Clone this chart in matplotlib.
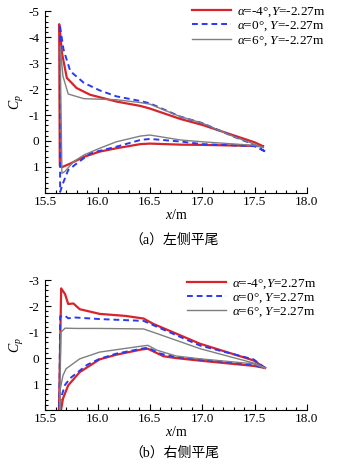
import numpy as np
import matplotlib
matplotlib.use("Agg")
import matplotlib.pyplot as plt
from matplotlib.ticker import MultipleLocator, FormatStrFormatter

# ---- (a) left horizontal tail, Y = -2.27 m ----
left_m4_up_x = [15.634, 15.645, 15.66, 15.707, 15.80, 15.93, 16.18, 16.41, 16.50, 16.79, 17.00, 17.50, 17.58]
left_m4_up_cp = [-4.5, -4.1, -3.4, -2.43, -2.04, -1.78, -1.52, -1.35, -1.25, -0.85, -0.62, 0.05, 0.2]
left_m4_lo_x = [15.634, 15.64, 15.665, 15.74, 15.87, 16.02, 16.18, 16.41, 16.50, 16.79, 17.00, 17.50, 17.58]
left_m4_lo_cp = [-4.5, 0.95, 1.0, 0.87, 0.61, 0.41, 0.28, 0.12, 0.1, 0.14, 0.15, 0.19, 0.2]

left_0_up_x = [15.64, 15.65, 15.675, 15.74, 15.87, 16.02, 16.18, 16.41, 16.50, 16.79, 17.00, 17.30, 17.47, 17.60]
left_0_up_cp = [-4.5, -4.2, -3.53, -2.69, -2.24, -1.95, -1.72, -1.54, -1.45, -0.94, -0.69, -0.17, 0.1, 0.4]
left_0_lo_x = [15.64, 15.643, 15.675, 15.72, 15.80, 15.93, 16.02, 16.18, 16.41, 16.50, 16.79, 17.00, 17.50, 17.60]
left_0_lo_cp = [-4.5, 1.96, 1.58, 1.12, 0.87, 0.48, 0.38, 0.22, -0.04, -0.08, 0.02, 0.12, 0.2, 0.4]

left_6_up_x = [15.643, 15.67, 15.72, 15.87, 16.18, 16.41, 16.50, 16.79, 17.00, 17.30, 17.47, 17.58]
left_6_up_cp = [-3.66, -2.5, -1.81, -1.63, -1.59, -1.48, -1.42, -0.94, -0.69, -0.17, 0.08, 0.25]
left_6_lo_x = [15.643, 15.66, 15.69, 15.77, 15.87, 16.02, 16.18, 16.41, 16.50, 16.79, 17.00, 17.50, 17.58]
left_6_lo_cp = [-3.66, 1.25, 1.17, 0.8, 0.54, 0.28, 0.03, -0.19, -0.23, -0.04, 0.03, 0.17, 0.25]

# ---- (b) right horizontal tail, Y = 2.27 m ----
right_m4_up_x = [15.63, 15.653, 15.69, 15.72, 15.77, 15.83, 16.02, 16.27, 16.44, 16.53, 16.98, 17.49, 17.60]
right_m4_up_cp = [2.5, -2.68, -2.46, -2.08, -2.10, -1.88, -1.70, -1.62, -1.52, -1.32, -0.55, 0.09, 0.38]
right_m4_lo_x = [15.63, 15.67, 15.72, 15.83, 16.02, 16.18, 16.42, 16.48, 16.63, 16.75, 16.98, 17.49, 17.60]
right_m4_lo_cp = [2.5, 1.56, 1.05, 0.54, 0.05, -0.13, -0.33, -0.36, -0.07, 0.0, 0.1, 0.3, 0.38]

right_0_up_x = [15.635, 15.643, 15.69, 15.72, 15.79, 16.02, 16.44, 16.53, 16.98, 17.49, 17.60]
right_0_up_cp = [2.3, -1.6, -1.63, -1.53, -1.56, -1.50, -1.43, -1.27, -0.48, 0.05, 0.38]
right_0_lo_x = [15.635, 15.64, 15.66, 15.69, 15.74, 15.90, 16.02, 16.18, 16.42, 16.48, 16.60, 16.75, 16.98, 17.49, 17.60]
right_0_lo_cp = [2.3, 1.74, 1.42, 1.03, 0.77, 0.26, 0.03, -0.17, -0.36, -0.40, -0.17, -0.04, 0.06, 0.26, 0.38]

right_6_up_x = [15.64, 15.65, 15.69, 15.80, 16.02, 16.44, 16.57, 16.98, 17.49, 17.60]
right_6_up_cp = [2.0, -0.99, -1.15, -1.14, -1.14, -1.12, -0.94, -0.36, 0.19, 0.38]
right_6_lo_x = [15.64, 15.645, 15.67, 15.70, 15.83, 16.02, 16.42, 16.48, 16.57, 16.75, 16.98, 17.49, 17.60]
right_6_lo_cp = [2.0, 1.18, 0.67, 0.41, 0.03, -0.23, -0.46, -0.49, -0.30, -0.08, 0.03, 0.22, 0.38]

labels_left = [r"$\alpha$=-4°,$Y$=-2.27m", r"$\alpha$=0°, $Y$=-2.27m", r"$\alpha$=6°, $Y$=-2.27m"]
labels_right = [r"$\alpha$=-4°,$Y$=2.27m", r"$\alpha$=0°, $Y$=2.27m", r"$\alpha$=6°, $Y$=2.27m"]

plt.rcParams["font.family"] = ["Liberation Serif"]
plt.rcParams["mathtext.fontset"] = "custom"
plt.rcParams["mathtext.rm"] = "Liberation Serif"
plt.rcParams["mathtext.it"] = "Liberation Serif:italic"
plt.rcParams["axes.unicode_minus"] = False

RED = "#d8232a"
BLUE = "#2a3af0"
GRAY = "#7f7f7f"


def loop(up_x, up_cp, lo_x, lo_cp):
    # trailing edge -> upper surface -> leading edge -> lower surface -> trailing edge
    x = np.concatenate([np.array(up_x)[::-1], lo_x])
    cp = np.concatenate([np.array(up_cp)[::-1], lo_cp])
    return x, cp


def draw_panel(ax, curves, labels, ymin, leg_anchor):
    styles = [
        dict(color=RED, lw=1.6, ls="-"),
        dict(color=BLUE, lw=1.4, ls=(0, (3, 2))),
        dict(color=GRAY, lw=1.0, ls="-"),
    ]
    handles = []
    for (x, cp), st, lab in zip(curves, styles, labels):
        h, = ax.plot(x, cp, label=lab, **st)
        handles.append(h)

    ax.set_xlim(15.5, 18.0)
    ax.set_ylim(2.0, ymin)
    ax.set_yticks(np.arange(ymin, 2, 1))
    ax.yaxis.set_minor_locator(MultipleLocator(0.2))
    ax.xaxis.set_major_locator(MultipleLocator(0.5))
    ax.xaxis.set_minor_locator(MultipleLocator(0.1))
    ax.xaxis.set_major_formatter(FormatStrFormatter("%.1f"))
    ax.yaxis.set_major_formatter(FormatStrFormatter("%d"))
    ax.tick_params(which="both", direction="in", labelsize=9.5, width=0.8)
    ax.tick_params(which="major", length=4)
    ax.tick_params(which="minor", length=2)
    ax.tick_params(axis="y", pad=4)
    ax.tick_params(axis="x", pad=2)
    ax.spines["top"].set_visible(False)
    ax.spines["right"].set_visible(False)
    ax.set_xlabel(r"$x$/m", fontsize=10, labelpad=0)
    ax.set_ylabel(r"$C_p$", fontsize=10, labelpad=2)

    ax.legend(handles=handles, loc="upper left", bbox_to_anchor=leg_anchor,
              bbox_transform=ax.figure.transFigure, frameon=False, fontsize=9.5,
              handlelength=3.0, handletextpad=0.4, labelspacing=0.05, borderpad=0,
              borderaxespad=0)


fig = plt.figure(figsize=(3.5, 4.66), dpi=100)
ax1 = fig.add_axes([0.129, 0.586, 0.748, 0.390])
ax2 = fig.add_axes([0.129, 0.120, 0.748, 0.279])

curves_left = [
    loop(left_m4_up_x, left_m4_up_cp, left_m4_lo_x, left_m4_lo_cp),
    loop(left_0_up_x, left_0_up_cp, left_0_lo_x, left_0_lo_cp),
    loop(left_6_up_x, left_6_up_cp, left_6_lo_x, left_6_lo_cp),
]
curves_right = [
    loop(right_m4_up_x, right_m4_up_cp, right_m4_lo_x, right_m4_lo_cp),
    loop(right_0_up_x, right_0_up_cp, right_0_lo_x, right_0_lo_cp),
    loop(right_6_up_x, right_6_up_cp, right_6_lo_x, right_6_lo_cp),
]

draw_panel(ax1, curves_left, labels_left, -5, (0.548, 0.988))
draw_panel(ax2, curves_right, labels_right, -3, (0.534, 0.405))

cap_font = ["Liberation Serif", "Noto Sans CJK SC"]
fig.text(0.497, 1 - 240 / 466, "（a）左侧平尾", ha="center", va="center", fontsize=10, family=cap_font)
fig.text(0.497, 1 - 453 / 466, "（b）右侧平尾", ha="center", va="center", fontsize=10, family=cap_font)

fig.savefig("out.png", dpi=100)
